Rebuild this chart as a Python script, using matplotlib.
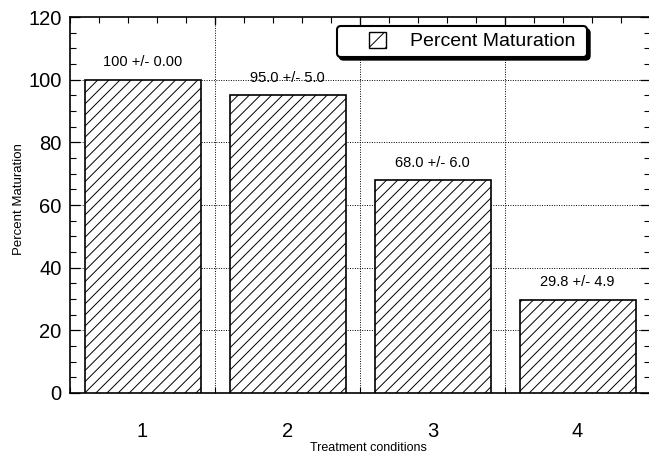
import matplotlib
matplotlib.use("Agg")
import matplotlib.pyplot as plt
import numpy as np
from matplotlib.patches import Rectangle
from matplotlib.legend_handler import HandlerPatch

plt.rcParams['font.family'] = ['Liberation Sans', 'DejaVu Sans']
plt.rcParams['hatch.linewidth'] = 0.7

# ---- data ----
conditions = [1, 2, 3, 4]
condition_labels = ["1", "2", "3", "4"]
percent_maturation = [100, 95.0, 68.0, 29.8]
sem = [0.00, 5.0, 6.0, 4.9]
value_texts = ["100 +/- 0.00", "95.0 +/- 5.0", "68.0 +/- 6.0", "29.8 +/- 4.9"]
y_ticks = [0, 20, 40, 60, 80, 100, 120]

fig = plt.figure(figsize=(6.49, 4.55), dpi=100)
ax = fig.add_axes([70/649, (455-393)/455, 580/649, 376/455])

bars = ax.bar(conditions, percent_maturation, width=0.8, color='white',
              edgecolor='black', linewidth=1.2, hatch='///', zorder=3,
              label='Percent Maturation ')

for b, t in zip(bars, value_texts):
    ax.annotate(t, (b.get_x() + b.get_width()/2, b.get_height()),
                xytext=(0, 12.5), textcoords='offset points',
                ha='center', va='center', fontsize=10.5, zorder=4)

ax.set_xlim(0.5, 4.5)
ax.set_ylim(0, 120)

# y ticks
ax.set_yticks(y_ticks)
ax.set_yticks(np.arange(0, 121, 5), minor=True)
ax.tick_params(axis='y', which='major', direction='in', length=7, width=0.9,
               left=True, right=True, labelsize=14.5, pad=6)
ax.tick_params(axis='y', which='minor', direction='in', length=4, width=0.8,
               left=True, right=True)

# x ticks
ax.set_xticks(conditions, condition_labels)
ax.set_xticks(np.arange(0.5, 4.51, 0.2), minor=True)
ax.tick_params(axis='x', which='major', length=0, labelsize=14.5, pad=21)
ax.tick_params(axis='x', which='minor', direction='in', length=4, width=0.8,
               bottom=True, top=True)

# dotted grid
for y in y_ticks[1:-1]:
    ax.axhline(y, color='black', linestyle=(0, (1, 1.5)), linewidth=0.7, zorder=1)
for x in [1.5, 2.5, 3.5]:
    ax.axvline(x, color='black', linestyle=(0, (1, 1.5)), linewidth=0.7, zorder=1)
    ax.plot([x, x], [120, 120 - 2.3], color='black', linewidth=0.9, zorder=2)

for s in ax.spines.values():
    s.set_linewidth(1.2)

ax.set_ylabel('Percent Maturation', fontsize=9.5, va='center')
ax.yaxis.set_label_coords(-0.088, 0.516)
ax.set_xlabel('Treatment conditions', fontsize=9, va='center')
ax.xaxis.set_label_coords(0.514, -0.146)


def make_handle(legend, orig_handle, xdescent, ydescent, width, height, fontsize):
    w, h = 12.5, 11.5
    return Rectangle((-xdescent + width - w, -ydescent + (height - h) / 2), w, h,
                     facecolor='white', edgecolor='black', linewidth=1.0,
                     hatch='//')

proxy = Rectangle((0, 0), 1, 1, facecolor='white', edgecolor='black',
                  linewidth=1.0, hatch='//')
leg = ax.legend([proxy], ['Percent Maturation '], loc='upper left',
                bbox_to_anchor=(0.46, 0.975), borderaxespad=0,
                fontsize=14, borderpad=0.33, handlelength=2.2,
                handletextpad=1.22, fancybox=True,
                shadow={'facecolor': 'black', 'edgecolor': 'black', 'alpha': 1},
                framealpha=1, edgecolor='black',
                handler_map={Rectangle: HandlerPatch(patch_func=make_handle)})
leg.get_frame().set_linewidth(1.5)
leg.set_zorder(5)

fig.savefig('out.png', dpi=100)
